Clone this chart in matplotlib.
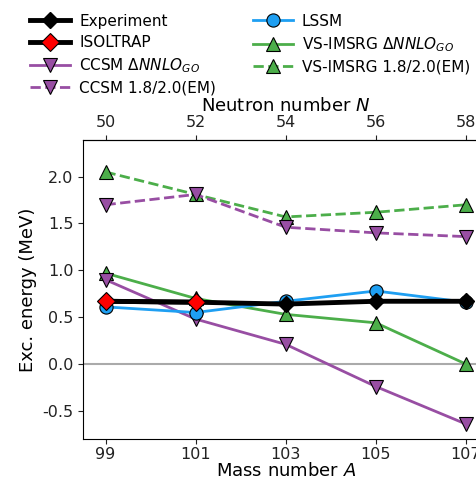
import matplotlib
matplotlib.use("Agg")
import matplotlib.pyplot as plt

mass = [99, 101, 103, 105, 107]
experiment = [0.67, 0.66, 0.64, 0.67, 0.67]
isoltrap_mass = [99, 101]
isoltrap = [0.67, 0.66]
lssm = [0.61, 0.55, 0.67, 0.78, 0.66]
ccsm_go = [0.90, 0.48, 0.21, -0.24, -0.64]
ccsm_em = [1.70, 1.81, 1.46, 1.40, 1.36]
vs_go = [0.97, 0.70, 0.53, 0.44, 0.0]
vs_em = [2.05, 1.81, 1.57, 1.62, 1.70]

green = "#4cae4a"
purple = "#984ea3"
blue = "#1e9ff2"

fig = plt.figure(figsize=(4.77, 4.79), dpi=100)
ax = fig.add_axes([0.174, 0.0835, 0.85, 0.624])

ax.axhline(0, color="#aaaaaa", lw=1.5, zorder=0)

ms = 9.5
h_vs_em, = ax.plot(mass, vs_em, "--", color=green, lw=2, marker="^", ms=ms,
                   mec="k", mew=0.8, label=r"VS-IMSRG 1.8/2.0(EM)")
h_ccsm_em, = ax.plot(mass, ccsm_em, "--", color=purple, lw=2, marker="v", ms=ms,
                     mec="k", mew=0.8, label=r"CCSM 1.8/2.0(EM)")
h_vs_go, = ax.plot(mass, vs_go, "-", color=green, lw=2, marker="^", ms=ms,
                   mec="k", mew=0.8, label=r"VS-IMSRG $\Delta NNLO_{GO}$")
h_ccsm_go, = ax.plot(mass, ccsm_go, "-", color=purple, lw=2, marker="v", ms=ms,
                     mec="k", mew=0.8, label=r"CCSM $\Delta NNLO_{GO}$")
h_lssm, = ax.plot(mass, lssm, "-", color=blue, lw=2, marker="o", ms=ms,
                  mec="k", mew=0.8, label="LSSM")
h_exp, = ax.plot(mass, experiment, "-", color="k", lw=3.5, marker="D", ms=8,
                 mec="k", label="Experiment")
h_iso, = ax.plot(isoltrap_mass, isoltrap, "-", color="k", lw=3.5, marker="D", ms=9,
                 mfc="red", mec="k", mew=0.8, label="ISOLTRAP")

ax.set_xlim(98.5, 107.5)
ax.set_ylim(-0.8, 2.39)
ax.set_xticks(mass)
ax.set_yticks([-0.5, 0.0, 0.5, 1.0, 1.5, 2.0])
ax.set_yticklabels(["-0.5", "0.0", "0.5", "1.0", "1.5", "2.0"])
ax.tick_params(labelsize=11.5, colors="#222222")
ax.tick_params(axis="x", pad=2)
ax.set_xlabel("Mass number $A$", fontsize=13, labelpad=0)
ax.set_ylabel("Exc. energy (MeV)", fontsize=13)
ax.spines["right"].set_visible(False)

top = ax.secondary_xaxis("top", functions=(lambda a: a - 49, lambda n: n + 49))
top.set_xticks([50, 52, 54, 56, 58])
top.tick_params(labelsize=11.5, colors="#222222")
top.set_xlabel("Neutron number $N$", fontsize=13, labelpad=3)

handles = [h_exp, h_iso, h_ccsm_go, h_ccsm_em, h_lssm, h_vs_go, h_vs_em]
fig.legend(handles=handles, labels=[h.get_label() for h in handles],
           loc="upper left", bbox_to_anchor=(0.035, 1.0), ncol=2, frameon=False,
           fontsize=11, handlelength=2.6, columnspacing=2.4, labelspacing=0.4,
           handletextpad=0.6)

fig.savefig("out.png", dpi=100)
